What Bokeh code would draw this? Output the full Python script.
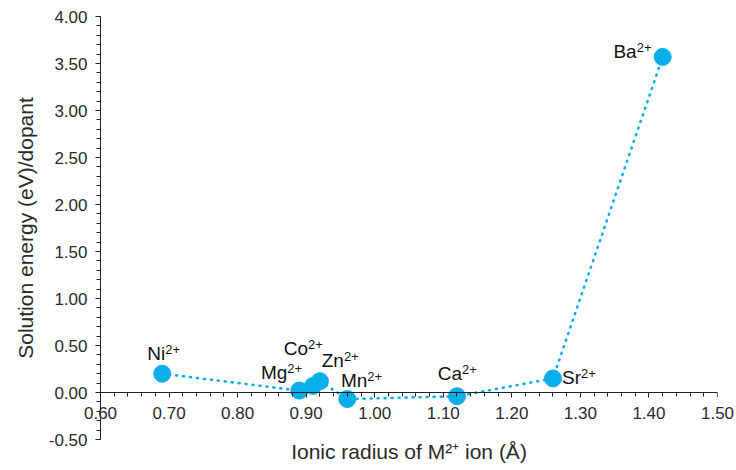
import numpy as np
from bokeh.plotting import figure
from bokeh.models import Range1d, FixedTicker, NumeralTickFormatter, ColumnDataSource, LinearAxis
from bokeh.core.properties import value
from bokeh.embed import file_html
from bokeh.resources import INLINE

# ---- data ----
ions = ["Ni", "Mg", "Co", "Zn", "Mn", "Ca", "Sr", "Ba"]
charges = ["2+", "2+", "2+", "2+", "2+", "2+", "2+", "2+"]
radius = [0.69, 0.89, 0.91, 0.92, 0.96, 1.12, 1.26, 1.42]
energy = [0.20, 0.02, 0.07, 0.12, -0.07, -0.04, 0.15, 3.57]
x_ticks = [0.60, 0.70, 0.80, 0.90, 1.00, 1.10, 1.20, 1.30, 1.40, 1.50]
y_ticks = [-0.50, 0.00, 0.50, 1.00, 1.50, 2.00, 2.50, 3.00, 3.50, 4.00]
x_tick_labels = ["0.60", "0.70", "0.80", "0.90", "1.00", "1.10", "1.20", "1.30", "1.40", "1.50"]

# label placement (pixels): junction between element symbol and charge, relative to the point
lab_dx = [3, -12, -5, 24, 20, 5, 28, -26]
lab_dy = [-20, -18, -37, -21, -19, -23, -1, -5]
SUP_RAISE = -4

COLOR = "#0AAEEA"
AXIS = "#222222"
TXT = "#2a2a2a"
FONT = "Liberation Sans"

src = ColumnDataSource(dict(x=radius, y=energy, ion=ions, chg=charges, dx=lab_dx, dy=lab_dy,
                            sdy=[d + SUP_RAISE for d in lab_dy]))

p = figure(width=736, height=470, output_backend="svg", toolbar_location=None,
           x_range=Range1d(0.6, 1.5), y_range=Range1d(-0.5, 4.0),
           min_border_left=100, min_border_right=19, min_border_top=16, min_border_bottom=31)
p.outline_line_color = None
p.xgrid.visible = False
p.ygrid.visible = False
p.background_fill_color = "white"
p.border_fill_color = "white"

p.line("x", "y", source=src, line_color=COLOR, line_width=2.6, line_dash="1 6", line_cap="round")
p.scatter("x", "y", source=src, size=17, fill_color=COLOR, line_color=COLOR)
p.text("x", "y", text="ion", source=src, x_offset="dx", y_offset="dy", text_align="right",
       text_baseline="middle", text_font=value(FONT), text_font_size="19px", text_color="#111111")
p.text("x", "y", text="chg", source=src, x_offset="dx", y_offset="sdy", text_align="left",
       text_baseline="middle", text_font=value(FONT), text_font_size="13px", text_color="#111111")

minor_x = list(np.round(np.arange(0.60, 1.5001, 0.02), 2))
minor_y = list(np.round(np.arange(-0.50, 4.0001, 0.10), 2))

# x axis crossing at y = 0
xa = p.xaxis[0]
xa.fixed_location = 0
xa.ticker = FixedTicker(ticks=x_ticks, minor_ticks=minor_x)
xa.major_label_text_color = None
xa.major_label_text_font_size = "0px"

# x tick labels (drawn unclipped, just under the y=0 axis line)
xlab_src = ColumnDataSource(dict(x=x_ticks, y=[0] * len(x_ticks), t=x_tick_labels))
p.text("x", "y", text="t", source=xlab_src, y_offset=14, text_align="center", text_baseline="top",
       text_font=value(FONT), text_font_size="17px", text_color=TXT, level="overlay")

# x axis title at the bottom
title_ax = LinearAxis(ticker=FixedTicker(ticks=[]), axis_label="Ionic radius of M²⁺ ion (Å)")
title_ax.axis_line_color = None
title_ax.major_tick_line_color = None
title_ax.minor_tick_line_color = None
title_ax.major_label_text_font_size = "0px"
title_ax.axis_label_standoff = 0
title_ax.axis_label_text_font = FONT
title_ax.axis_label_text_font_size = "21px"
title_ax.axis_label_text_font_style = "normal"
title_ax.axis_label_text_color = TXT
p.add_layout(title_ax, "below")

ya = p.yaxis[0]
ya.ticker = FixedTicker(ticks=y_ticks, minor_ticks=minor_y)
ya.formatter = NumeralTickFormatter(format="0.00")
ya.axis_label = "Solution energy (eV)/dopant"
ya.major_label_text_font = FONT
ya.major_label_text_font_size = "17px"
ya.major_label_text_color = TXT
ya.major_label_standoff = 8
ya.axis_label_text_font = FONT
ya.axis_label_text_font_size = "21px"
ya.axis_label_text_font_style = "normal"
ya.axis_label_text_color = TXT
ya.axis_label_standoff = 9

for ax in (xa, ya):
    ax.axis_line_color = AXIS
    ax.axis_line_width = 1
    ax.major_tick_line_color = AXIS
    ax.minor_tick_line_color = AXIS
    ax.major_tick_in = 0
    ax.major_tick_out = 5
    ax.minor_tick_in = 0
    ax.minor_tick_out = 4

open("out.html", "w").write(file_html(p, INLINE))
